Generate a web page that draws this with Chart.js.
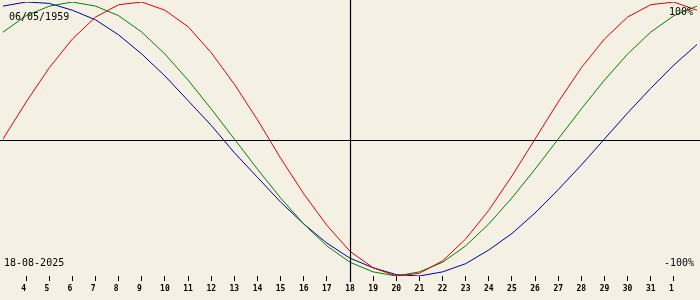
<!DOCTYPE html>
<html>
<head>
<meta charset="utf-8">
<script src="https://cdn.jsdelivr.net/npm/chart.js@4.4.1/dist/chart.umd.min.js"></script>
<style>
  body { margin: 0; background: #f4f0e4; }
  #wrap { width: 700px; height: 300px; }
</style>
</head>
<body>
<div id="wrap"><canvas id="bio"></canvas></div>
<script>
// days shown: 3 Aug 2025 .. 2 Sep 2025
const days = ["3", "4", "5", "6", "7", "8", "9", "10", "11", "12", "13", "14", "15", "16", "17",
  "18", "19", "20", "21", "22", "23", "24", "25", "26", "27", "28", "29", "30", "31", "1", "2"];

// percent values, one per day
const physical = [0, 27, 52, 73, 89, 98, 100, 94, 82, 63, 40, 14, -14, -40, -63, -82,
  -94, -100, -98, -89, -73, -52, -27, 0, 27, 52, 73, 89, 98, 100, 94];
const emotional = [78, 90, 97, 100, 97, 90, 78, 62, 43, 22, 0, -22, -43, -62, -78, -90,
  -97, -100, -97, -90, -78, -62, -43, -22, 0, 22, 43, 62, 78, 90, 97];
const intellectual = [97, 100, 99, 94, 87, 76, 62, 46, 28, 10, -10, -28, -46, -62, -76, -87,
  -94, -99, -100, -97, -91, -81, -69, -54, -37, -19, 0, 19, 37, 54, 69];

const birthText = "06/05/1959";
const todayText = "18-08-2025";
const todayIndex = 15;

const mono = '"DejaVu Sans Mono", monospace';

// cross lines + corner texts
const overlay = {
  id: "overlay",
  afterDatasetsDraw(chart) {
    const ctx = chart.ctx;
    const x = Math.round(chart.scales.x.getPixelForValue(todayIndex)) + 0.5;
    ctx.save();
    ctx.strokeStyle = "#000";
    ctx.lineWidth = 1.2;
    ctx.beginPath();
    ctx.moveTo(0, 140.5);
    ctx.lineTo(700, 140.5);
    ctx.moveTo(x, 0);
    ctx.lineTo(x, 282);
    ctx.stroke();

    ctx.fillStyle = "#000";
    ctx.font = "10px " + mono;
    ctx.textAlign = "left";
    ctx.fillText(birthText, 9, 20);
    ctx.fillText(todayText, 4, 266);
    ctx.textAlign = "right";
    ctx.fillText("100%", 693, 15);
    ctx.fillText("-100%", 694, 266);
    ctx.restore();
  }
};

new Chart(document.getElementById("bio"), {
  type: "line",
  data: {
    labels: days,
    datasets: [
      { label: "physical", data: physical, borderColor: "#e00000" },
      { label: "emotional", data: emotional, borderColor: "#008000" },
      { label: "intellectual", data: intellectual, borderColor: "#0000a0" }
    ]
  },
  options: {
    responsive: true,
    maintainAspectRatio: false,
    animation: false,
    layout: { padding: { top: 2, left: 0, right: 0, bottom: 0 } },
    elements: {
      line: { borderWidth: 1, tension: 0, fill: false },
      point: { radius: 0 }
    },
    plugins: { legend: { display: false }, tooltip: { enabled: false } },
    scales: {
      x: {
        offset: false,
        afterFit: (s) => { s.height = 24; },
        border: { display: false },
        grid: {
          drawOnChartArea: false,
          tickLength: 5,
          color: (c) => (c.index > 0 && c.index < days.length - 1) ? "#000" : "rgba(0,0,0,0)"
        },
        ticks: {
          autoSkip: false,
          maxRotation: 0,
          padding: 3,
          color: "#000",
          font: { family: mono, size: 8, weight: "bold" },
          callback: function (v, i) {
            if (i === 0 || i === days.length - 1) return "";
            const d = days[i];
            return d.length === 1 ? d + " " : d;
          }
        }
      },
      y: { display: false, min: -100, max: 100 }
    }
  },
  plugins: [overlay]
});
</script>
</body>
</html>
